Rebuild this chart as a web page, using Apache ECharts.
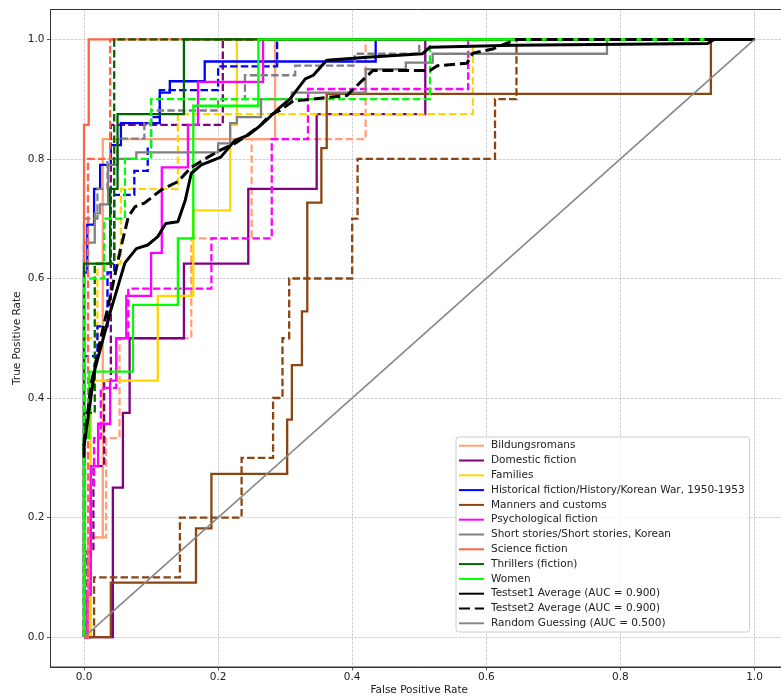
<!DOCTYPE html>
<html>
<head>
<meta charset="utf-8">
<script src="https://cdn.jsdelivr.net/npm/echarts@6/dist/echarts.min.js"></script>
<style>html,body{margin:0;padding:0;background:#fff}#c{width:781px;height:697px}</style>
</head>
<body>
<div id="c"></div>
<script>
// ---------- data ----------
const classNames = ['Bildungsromans','Domestic fiction','Families','Historical fiction/History/Korean War, 1950-1953','Manners and customs','Psychological fiction','Short stories/Short stories, Korean','Science fiction','Thrillers (fiction)','Women'];
const tickValues = [0, 0.2, 0.4, 0.6, 0.8, 1.0];

// Testset1 (solid) ROC points [fpr, tpr]
const bildungsromans1 = [[0,0],[0.006,0],[0.006,0.167],[0.028,0.167],[0.028,0.833],[0.285,0.833],[0.285,1],[1,1]];
const domestic1 = [[0,0],[0.043,0],[0.043,0.25],[0.058,0.25],[0.058,0.375],[0.068,0.375],[0.068,0.5],[0.149,0.5],[0.149,0.625],[0.245,0.625],[0.245,0.75],[0.347,0.75],[0.347,0.875],[0.509,0.875],[0.509,1],[1,1]];
const families1 = [[0,0],[0.01,0],[0.01,0.429],[0.11,0.429],[0.11,0.571],[0.163,0.571],[0.163,0.714],[0.218,0.714],[0.218,0.857],[0.228,0.857],[0.228,1],[1,1]];
const historical1 = [[0,0],[0,0.61],[0.005,0.61],[0.005,0.69],[0.015,0.69],[0.015,0.75],[0.024,0.75],[0.024,0.79],[0.04,0.79],[0.04,0.823],[0.055,0.823],[0.055,0.86],[0.113,0.86],[0.113,0.911],[0.128,0.911],[0.128,0.93],[0.18,0.93],[0.18,0.963],[0.435,0.963],[0.435,1],[1,1]];
const manners1 = [[0,0],[0.04,0],[0.04,0.091],[0.167,0.091],[0.167,0.182],[0.19,0.182],[0.19,0.273],[0.303,0.273],[0.303,0.364],[0.31,0.364],[0.31,0.455],[0.325,0.455],[0.325,0.545],[0.333,0.545],[0.333,0.727],[0.354,0.727],[0.354,0.818],[0.362,0.818],[0.362,0.909],[0.935,0.909],[0.935,1],[1,1]];
const psychological1 = [[0,0],[0.005,0],[0.005,0.071],[0.01,0.071],[0.01,0.286],[0.021,0.286],[0.021,0.357],[0.039,0.357],[0.039,0.429],[0.048,0.429],[0.048,0.5],[0.063,0.5],[0.063,0.571],[0.1,0.571],[0.1,0.643],[0.116,0.643],[0.116,0.786],[0.155,0.786],[0.155,0.857],[0.17,0.857],[0.17,0.929],[0.267,0.929],[0.267,1],[1,1]];
const shortStories1 = [[0,0],[0,0.66],[0.016,0.66],[0.016,0.709],[0.024,0.709],[0.024,0.724],[0.036,0.724],[0.036,0.79],[0.05,0.79],[0.05,0.8],[0.078,0.8],[0.078,0.811],[0.2,0.811],[0.2,0.826],[0.218,0.826],[0.218,0.86],[0.228,0.86],[0.228,0.87],[0.264,0.87],[0.264,0.9],[0.31,0.9],[0.31,0.911],[0.42,0.911],[0.42,0.95],[0.48,0.95],[0.48,0.961],[0.52,0.961],[0.52,0.976],[0.78,0.976],[0.78,1],[1,1]];
const scienceFiction1 = [[0,0],[0,0.857],[0.007,0.857],[0.007,1],[1,1]];
const thrillers1 = [[0,0],[0,0.625],[0.039,0.625],[0.039,0.75],[0.05,0.75],[0.05,0.875],[0.149,0.875],[0.149,1],[1,1]];
const women1 = [[0,0],[0,0.333],[0.008,0.333],[0.008,0.444],[0.073,0.444],[0.073,0.556],[0.14,0.556],[0.14,0.667],[0.163,0.667],[0.163,0.889],[0.26,0.889],[0.26,1],[1,1]];

// Testset2 (dashed) ROC points [fpr, tpr]
const bildungsromans2 = [[0,0],[0.01,0],[0.01,0.167],[0.033,0.167],[0.033,0.333],[0.053,0.333],[0.053,0.5],[0.16,0.5],[0.16,0.667],[0.25,0.667],[0.25,0.833],[0.42,0.833],[0.42,1],[1,1]];
const domestic2 = [[0,0],[0.005,0],[0.005,0.143],[0.014,0.143],[0.014,0.286],[0.03,0.286],[0.03,0.429],[0.04,0.429],[0.04,0.857],[0.207,0.857],[0.207,1],[1,1]];
const families2 = [[0,0],[0,0.5],[0.02,0.5],[0.02,0.625],[0.055,0.625],[0.055,0.75],[0.14,0.75],[0.14,0.875],[0.58,0.875],[0.58,1],[1,1]];
const historical2 = [[0,0],[0,0.47],[0.02,0.47],[0.02,0.52],[0.035,0.52],[0.035,0.61],[0.045,0.61],[0.045,0.74],[0.075,0.74],[0.075,0.78],[0.095,0.78],[0.095,0.82],[0.1,0.82],[0.1,0.87],[0.113,0.87],[0.113,0.915],[0.2,0.915],[0.2,0.955],[0.288,0.955],[0.288,1],[1,1]];
const manners2 = [[0,0],[0.015,0],[0.015,0.1],[0.143,0.1],[0.143,0.2],[0.235,0.2],[0.235,0.3],[0.282,0.3],[0.282,0.4],[0.296,0.4],[0.296,0.5],[0.306,0.5],[0.306,0.6],[0.4,0.6],[0.4,0.7],[0.408,0.7],[0.408,0.8],[0.613,0.8],[0.613,0.9],[0.645,0.9],[0.645,1],[1,1]];
const psychological2 = [[0,0],[0.005,0],[0.005,0.083],[0.01,0.083],[0.01,0.25],[0.015,0.25],[0.015,0.333],[0.025,0.333],[0.025,0.417],[0.048,0.417],[0.048,0.5],[0.066,0.5],[0.066,0.583],[0.19,0.583],[0.19,0.667],[0.28,0.667],[0.28,0.833],[0.334,0.833],[0.334,0.917],[0.573,0.917],[0.573,1],[1,1]];
const shortStories2 = [[0,0],[0,0.7],[0.02,0.7],[0.02,0.75],[0.035,0.75],[0.035,0.8],[0.05,0.8],[0.05,0.834],[0.09,0.834],[0.09,0.86],[0.1,0.86],[0.1,0.881],[0.2,0.881],[0.2,0.9],[0.24,0.9],[0.24,0.94],[0.315,0.94],[0.315,0.956],[0.404,0.956],[0.404,0.976],[0.5,0.976],[0.5,1],[1,1]];
const scienceFiction2 = [[0,0],[0.006,0],[0.006,0.8],[0.039,0.8],[0.039,1],[1,1]];
const thrillers2 = [[0,0],[0,0.375],[0.016,0.375],[0.016,0.625],[0.045,0.625],[0.045,1],[1,1]];
const women2 = [[0,0],[0,0.6],[0.03,0.6],[0.03,0.7],[0.061,0.7],[0.061,0.8],[0.1,0.8],[0.1,0.9],[0.516,0.9],[0.516,1],[1,1]];

// Averages and random guessing
const testset1Average = [[0,0.3],[0.0,0.32],[0.016,0.447],[0.04,0.547],[0.061,0.626],[0.078,0.65],[0.095,0.656],[0.11,0.67],[0.122,0.692],[0.14,0.695],[0.151,0.731],[0.16,0.776],[0.175,0.79],[0.204,0.803],[0.225,0.831],[0.245,0.84],[0.26,0.853],[0.275,0.868],[0.29,0.884],[0.307,0.9],[0.33,0.934],[0.342,0.94],[0.362,0.965],[0.422,0.97],[0.505,0.976],[0.516,0.987],[0.64,0.99],[0.93,0.993],[0.94,1],[1,1]];
const testset2Average = [[0,0.32],[0.01,0.42],[0.025,0.5],[0.039,0.569],[0.054,0.647],[0.066,0.703],[0.076,0.72],[0.09,0.726],[0.115,0.748],[0.14,0.762],[0.16,0.786],[0.185,0.803],[0.204,0.815],[0.225,0.826],[0.24,0.837],[0.263,0.856],[0.277,0.873],[0.292,0.881],[0.312,0.897],[0.392,0.906],[0.412,0.928],[0.431,0.948],[0.516,0.948],[0.527,0.956],[0.571,0.96],[0.58,0.977],[0.61,0.984],[0.64,0.998],[0.645,1],[1,1]];
const randomGuess = [[0,0],[1,1]];

const colors = ['#FFA07A','#800080','#FFD700','#0000FF','#8B4513','#FF00FF','#808080','#FF6347','#006400','#00FF00'];
const testset1 = [bildungsromans1,domestic1,families1,historical1,manners1,psychological1,shortStories1,scienceFiction1,thrillers1,women1];
const testset2 = [bildungsromans2,domestic2,families2,historical2,manners2,psychological2,shortStories2,scienceFiction2,thrillers2,women2];
const avgNames = ['Testset1 Average (AUC = 0.900)','Testset2 Average (AUC = 0.900)','Random Guessing (AUC = 0.500)'];

// ---------- chart ----------
const FONT = 'DejaVu Sans';
const FS = 10.5;
const series = [];
classNames.forEach((n, i) => {
  series.push({name: n, type: 'line', data: testset1[i], symbol: 'none', showSymbol: false, animation: false,
    lineStyle: {color: colors[i], width: 2.3, cap: 'butt', join: 'miter'}, itemStyle: {color: colors[i]}});
  series.push({name: n + ' (Testset2)', type: 'line', data: testset2[i], symbol: 'none', showSymbol: false, animation: false,
    lineStyle: {color: colors[i], width: 2.3, type: [7.5, 3.2], cap: 'butt', join: 'miter'}, itemStyle: {color: colors[i]}});
});
series.push({name: avgNames[0], type: 'line', data: testset1Average, symbol: 'none', showSymbol: false, animation: false,
  lineStyle: {color: '#000', width: 3}, itemStyle: {color: '#000'}});
series.push({name: avgNames[1], type: 'line', data: testset2Average, symbol: 'none', showSymbol: false, animation: false,
  lineStyle: {color: '#000', width: 3, type: [11, 4.8]}, itemStyle: {color: '#000'}});
series.push({name: avgNames[2], type: 'line', data: randomGuess, symbol: 'none', showSymbol: false, animation: false,
  lineStyle: {color: '#888888', width: 1.6}, itemStyle: {color: '#888888'}});

const axisCommon = {
  type: 'value', min: -0.05, max: 1.05,
  axisLine: {show: true, onZero: false, lineStyle: {color: '#333', width: 1}},
  axisTick: {show: true, customValues: tickValues, length: 3.5, lineStyle: {color: '#333', width: 0.8}},
  axisLabel: {customValues: tickValues, formatter: v => Number(v).toFixed(1), fontSize: FS, color: '#222', fontFamily: FONT},
  splitLine: {show: true, lineStyle: {color: 'rgba(176,176,176,0.75)', width: 0.8, type: [2.8, 1.2]}},
  nameLocation: 'middle', nameMoveOverlap: false, nameTextStyle: {fontSize: FS, color: '#222', fontFamily: FONT}
};

const option = {
  backgroundColor: '#fff',
  animation: false,
  grid: {left: 50.5, right: -7, top: 9.5, bottom: 30, show: true, borderColor: '#333', borderWidth: 1, backgroundColor: 'transparent', containLabel: false, outerBoundsMode: 'none'},
  xAxis: Object.assign({}, axisCommon, {name: 'False Positive Rate', nameGap: 18,
    axisLabel: Object.assign({}, axisCommon.axisLabel, {margin: 5})}),
  yAxis: Object.assign({}, axisCommon, {name: 'True Positive Rate', nameGap: 28,
    axisLabel: Object.assign({}, axisCommon.axisLabel, {margin: 6})}),
  legend: {
    data: classNames.concat(avgNames), orient: 'vertical', left: 456, top: 437,
    itemWidth: 25, itemHeight: 12, itemGap: 2.8, padding: [2.7, 5, 2.7, 2],
    backgroundColor: 'rgba(255,255,255,0.8)', borderColor: '#cccccc', borderWidth: 1, borderRadius: 3,
    itemStyle: {opacity: 0},
    textStyle: {fontSize: FS, color: '#222', fontFamily: FONT, lineHeight: 12, padding: [0, 0, 0, 2]},
    selectedMode: false
  },
  series: series
};
const chart = echarts.init(document.getElementById('c'), null, {renderer: 'canvas'});
chart.setOption(option);
</script>
</body>
</html>
